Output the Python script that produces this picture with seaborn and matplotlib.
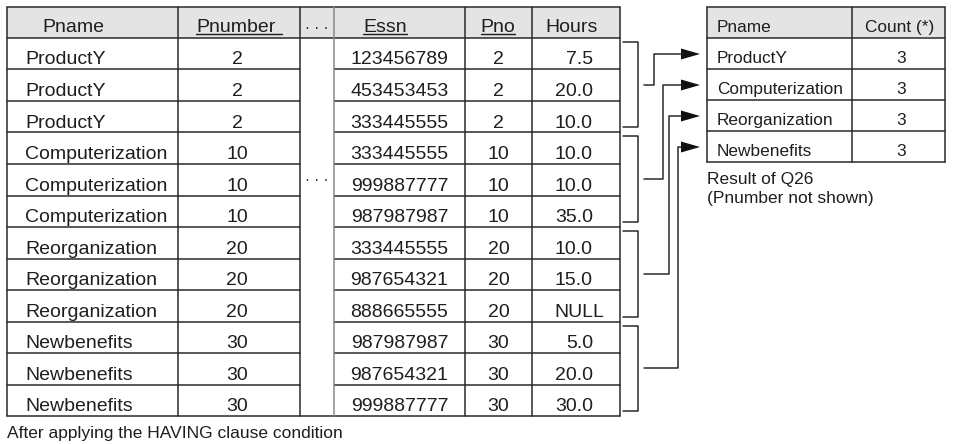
import pandas as pd
import numpy as np
import matplotlib
matplotlib.use("Agg")
import matplotlib.pyplot as plt
import seaborn as sns

# Table contents
pname = ["ProductY", "ProductY", "ProductY",
         "Computerization", "Computerization", "Computerization",
         "Reorganization", "Reorganization", "Reorganization",
         "Newbenefits", "Newbenefits", "Newbenefits"]
pnumber = [2, 2, 2, 10, 10, 10, 20, 20, 20, 30, 30, 30]
essn = ["123456789", "453453453", "333445555", "333445555", "999887777", "987987987",
        "333445555", "987654321", "888665555", "987987987", "987654321", "999887777"]
pno = [2, 2, 2, 10, 10, 10, 20, 20, 20, 30, 30, 30]
hours = ["7.5", "20.0", "10.0", "10.0", "10.0", "35.0",
         "10.0", "15.0", "NULL", "5.0", "20.0", "30.0"]
headers = ["Pname", "Pnumber", "· · ·", "Essn", "Pno", "Hours"]
underlined = ["Pnumber", "Essn", "Pno"]

result_pname = ["ProductY", "Computerization", "Reorganization", "Newbenefits"]
result_count = [3, 3, 3, 3]
result_headers = ["Pname", "Count (*)"]

caption_left = "After applying the HAVING clause condition"
caption_right = ["Result of Q26", "(Pnumber not shown)"]

df = pd.DataFrame({"Pname": pname, "Pnumber": pnumber, "Essn": essn,
                   "Pno": pno, "Hours": hours})

sns.set_theme(style="white")
plt.rcParams["font.family"] = ["Liberation Sans", "DejaVu Sans"]

LINE = "#2a2a2a"
TEXT = "#1e1e1e"
HEAD = "#e4e4e4"
LW = 1.1

fig = plt.figure(figsize=(9.58, 4.44), dpi=100)
ax = fig.add_axes([0, 0, 1, 1])
ax.set_xlim(0, 958)
ax.set_ylim(444, 0)
ax.axis("off")

# ---- main table ----
col_edges = [7, 178, 300, 334, 465, 532, 620]
top, head_h, row_h = 7, 31, 31.5
n_rows = len(df)
body_top = top + head_h
bottom = body_top + row_h * n_rows

ax.add_patch(plt.Rectangle((col_edges[0], top), col_edges[-1] - col_edges[0], head_h,
                           facecolor=HEAD, edgecolor="none"))

# horizontal lines (dots column has none inside the body)
for y in [top, body_top, bottom]:
    ax.plot([col_edges[0], col_edges[-1]], [y, y], color=LINE, lw=LW)
for i in range(1, n_rows):
    y = body_top + row_h * i
    ax.plot([col_edges[0], col_edges[2]], [y, y], color=LINE, lw=LW)
    ax.plot([col_edges[3], col_edges[-1]], [y, y], color=LINE, lw=LW)
for j, x in enumerate(col_edges):
    ax.plot([x, x], [top, bottom], color="#8a8a8a" if j == 3 else LINE, lw=LW)

# header texts
hdr_x = [42, 236, 317, 385, 498, 572]
hdr_ha = ["left", "center", "center", "center", "center", "center"]
hdr_texts = []
for h, x, ha in zip(headers, hdr_x, hdr_ha):
    fs = 11 if h.startswith("·") else 14
    t = ax.text(x, top + 24.5, h, ha=ha, va="baseline", fontsize=fs, color=TEXT)
    hdr_texts.append(t)

# body texts
col_center = [(a + b) / 2 for a, b in zip(col_edges[:-1], col_edges[1:])]
for i, row in df.iterrows():
    yb = body_top + row_h * i + 26.5
    ax.text(col_edges[0] + 18, yb, row["Pname"], ha="left", va="baseline", fontsize=14, color=TEXT)
    ax.text(col_center[1] - 2, yb, str(row["Pnumber"]), ha="center", va="baseline", fontsize=14, color=TEXT)
    ax.text(col_center[3], yb, row["Essn"], ha="center", va="baseline", fontsize=14, color=TEXT)
    ax.text(col_center[4], yb, str(row["Pno"]), ha="center", va="baseline", fontsize=14, color=TEXT)
    if row["Hours"] == "NULL":
        ax.text(col_center[5] + 3, yb, row["Hours"], ha="center", va="baseline", fontsize=14, color=TEXT)
    else:
        ax.text(col_edges[5] + 61, yb, row["Hours"], ha="right", va="baseline", fontsize=14, color=TEXT)
ax.text(col_center[2], body_top + row_h * 4 + 20, "· · ·", ha="center", va="baseline",
        fontsize=11, color=TEXT)

# ---- result table ----
r_edges = [707, 852, 945]
r_top, r_head, r_row = 7, 31.5, 31
r_body = r_top + r_head
r_bottom = r_body + r_row * len(result_pname)
ax.add_patch(plt.Rectangle((r_edges[0], r_top), r_edges[-1] - r_edges[0], r_head,
                           facecolor=HEAD, edgecolor="none"))
for y in [r_top, r_body] + [r_body + r_row * k for k in range(1, len(result_pname) + 1)]:
    ax.plot([r_edges[0], r_edges[-1]], [y, y], color=LINE, lw=LW)
for x in r_edges:
    ax.plot([x, x], [r_top, r_bottom], color=LINE, lw=LW)
ax.text(r_edges[0] + 10, r_top + 25, result_headers[0], ha="left", va="baseline", fontsize=12.4, color=TEXT)
ax.text((r_edges[1] + r_edges[2]) / 2 + 1, r_top + 25, result_headers[1], ha="center", va="baseline",
        fontsize=12.4, color=TEXT)
for k, (nm, c) in enumerate(zip(result_pname, result_count)):
    yb = r_body + r_row * k + 24.5
    ax.text(r_edges[0] + 10, yb, nm, ha="left", va="baseline", fontsize=12.4, color=TEXT)
    ax.text((r_edges[1] + r_edges[2]) / 2 + 3, yb, str(c), ha="center", va="baseline",
            fontsize=12.4, color=TEXT)

ax.text(r_edges[0], r_bottom + 21, caption_right[0], ha="left", va="baseline", fontsize=12.5, color=TEXT)
ax.text(r_edges[0], r_bottom + 40, caption_right[1], ha="left", va="baseline", fontsize=12.5, color=TEXT)
ax.text(col_edges[0], bottom + 22, caption_left, ha="left", va="baseline", fontsize=12.5, color=TEXT)

# ---- brackets and arrows ----
br_x = col_edges[-1] + 18
conn_x = [654, 663, 669, 678]
tip_x = r_edges[0] - 7
groups = df.groupby("Pnumber", sort=False).groups
for g, (key, idx) in enumerate(groups.items()):
    first, last = min(idx), max(idx)
    y0 = body_top + row_h * first + 4
    y1 = body_top + row_h * (last + 1) - 5
    ax.plot([col_edges[-1] + 3, br_x, br_x, col_edges[-1] + 3], [y0, y0, y1, y1], color=LINE, lw=LW)
    ym = (y0 + y1) / 2
    ya = r_body + r_row * (g + 0.5)
    ax.plot([br_x + 6, conn_x[g], conn_x[g], tip_x - 18], [ym, ym, ya, ya], color=LINE, lw=LW)
    ax.fill([tip_x, tip_x - 19, tip_x - 19], [ya, ya - 5.5, ya + 5.5], color="#111111", lw=0)

fig.canvas.draw()
inv = ax.transData.inverted()
renderer = fig.canvas.get_renderer()
for t in hdr_texts:
    if t.get_text() in underlined:
        bb = t.get_window_extent(renderer)
        (xa, _), (xb, _) = inv.transform([[bb.x0, bb.y0], [bb.x1, bb.y1]])
        extra = 6 if t.get_text() == "Pnumber" else 0
        ax.plot([xa, xb + extra], [top + 27, top + 27], color=TEXT, lw=1.0)

fig.savefig("out.png", dpi=100)
